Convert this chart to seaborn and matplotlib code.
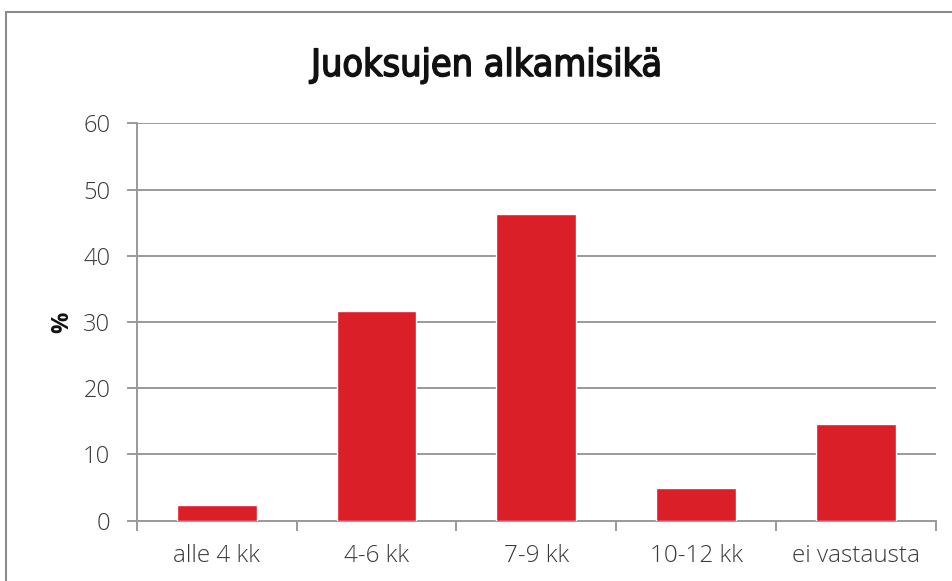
"""
Juoksujen alkamisikä - bar chart recreation
"""
import matplotlib
matplotlib.use('Agg')
import matplotlib.pyplot as plt
import matplotlib.patheffects as pe
import seaborn as sns
import pandas as pd
from matplotlib.patches import Rectangle

categories = ['alle 4 kk', '4-6 kk', '7-9 kk', '10-12 kk', 'ei vastausta']
percent = [2.4, 31.7, 46.3, 4.9, 14.6]
y_ticks = [0, 10, 20, 30, 40, 50, 60]
title = 'Juoksujen alkamisikä'

df = pd.DataFrame({'kategoria': categories, 'osuus': percent})

sns.set_style('white')
plt.rcParams['font.family'] = ['Open Sans', 'DejaVu Sans']

W, H = 952, 581
fig = plt.figure(figsize=(W / 100, H / 100), dpi=100)
ax = fig.add_axes([136.7 / W, 1 - 520.7 / H, (936 - 136.7) / W, (520.7 - 123.3) / H])

# outer chart border (runs off right/bottom edge like the screenshot)
fig.patches.append(Rectangle((5.5 / W, -0.1), 1.2, 1 - 11.5 / H + 0.1,
                             transform=fig.transFigure, fill=False,
                             edgecolor='#8c8c8c', linewidth=1.5))

sns.barplot(data=df, x='kategoria', y='osuus', color='#da1f28', width=0.5,
            saturation=1, ax=ax, zorder=3)

ax.set_ylim(0, 60)
ax.set_xlim(-0.5, len(categories) - 0.5)
ax.set_yticks(y_ticks)
ax.yaxis.grid(True, color='#9a9a9a', linewidth=1.4, zorder=0)
ax.set_axisbelow(True)

for s in ['top', 'right']:
    ax.spines[s].set_visible(False)
for s in ['left', 'bottom']:
    ax.spines[s].set_color('#9a9a9a')
    ax.spines[s].set_linewidth(1.4)

# y ticks outward, x ticks at category boundaries
ax.tick_params(axis='y', left=True, length=7, width=1.4, color='#9a9a9a',
               labelsize=17, labelcolor='#3a3a3a', pad=12)
ax.set_xticks([i - 0.5 for i in range(len(categories) + 1)], minor=True)
ax.tick_params(axis='x', which='minor', bottom=True, length=7, width=1.4,
               color='#9a9a9a')
ax.tick_params(axis='x', which='major', bottom=False, length=0, labelsize=17.5,
               labelcolor='#3a3a3a', pad=17)
for lab in ax.get_xticklabels() + ax.get_yticklabels():
    lab.set_fontweight('light')

ax.set_xlabel('')
ax.set_ylabel('%', fontsize=17, fontweight='bold', color='#111111', labelpad=6)

# condensed title, thickened a little with a stroke (medium weight look)
fig.text(486 / W, 1 - 66 / H, title, ha='center', va='center', fontsize=27,
         family='DejaVu Sans', fontstretch='condensed', fontweight='normal',
         color='#111111',
         path_effects=[pe.withStroke(linewidth=1.1, foreground='#111111')])

fig.savefig('out.png', dpi=100)
